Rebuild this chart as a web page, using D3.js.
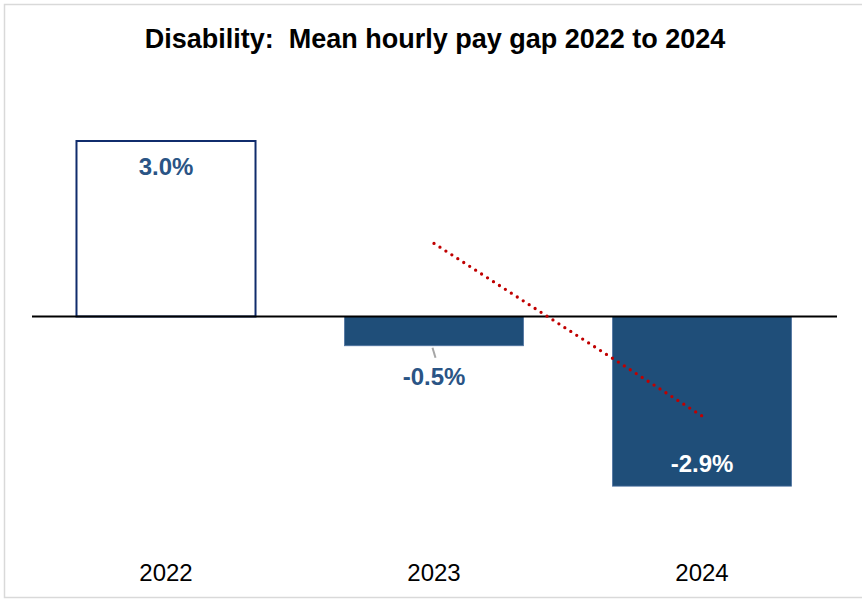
<!DOCTYPE html>
<html>
<head>
<meta charset="utf-8">
<script src="https://cdn.jsdelivr.net/npm/d3@7"></script>
<style>
  html, body { margin: 0; padding: 0; background: #fff; }
  svg { display: block; font-family: Arial, "Liberation Sans", sans-serif; }
</style>
</head>
<body>
<svg id="chart" width="862" height="600"></svg>
<script>
const title = "Disability:\u00A0\u00A0Mean hourly pay gap 2022 to 2024";
const years = ["2022", "2023", "2024"];
const payGap = [3.0, -0.5, -2.9];
const labels = ["3.0%", "-0.5%", "-2.9%"];

// 2-period moving average trendline (derived from the data)
const movingAvg = payGap.slice(1).map((v, i) => ({ year: years[i + 1], value: (v + payGap[i]) / 2 }));

const svg = d3.select("#chart");

svg.append("rect")
  .attr("x", 4.5).attr("y", 4.5).attr("width", 880).attr("height", 593)
  .attr("fill", "#fff").attr("stroke", "#D9D9D9").attr("stroke-width", 1.5);

const x = d3.scaleBand().domain(years).range([32, 836]).paddingInner(0.332).paddingOuter(0.166);
const y = d3.scaleLinear().domain([-3, 3]).range([316.5 + 175.5, 141]);

svg.append("text")
  .attr("x", 435).attr("y", 48)
  .attr("text-anchor", "middle")
  .attr("font-size", 27).attr("font-weight", "bold").attr("fill", "#000")
  .text(title);

const data = years.map((yr, i) => ({ year: yr, value: payGap[i], label: labels[i], i }));

svg.selectAll("rect.bar").data(data).enter().append("rect")
  .attr("class", "bar")
  .attr("x", d => x(d.year))
  .attr("width", x.bandwidth())
  .attr("y", d => y(Math.max(0, d.value)))
  .attr("height", d => Math.abs(y(d.value) - y(0)))
  .attr("fill", d => d.value >= 0 ? "#ffffff" : "#1F4E79")
  .attr("stroke", d => d.value >= 0 ? "#102C6C" : "#4F73A0")
  .attr("stroke-width", d => d.value >= 0 ? 2 : 0.8);

// zero line
svg.append("g")
  .attr("transform", `translate(0,${y(0)})`)
  .call(d3.axisBottom(x).tickSize(0).tickFormat(""))
  .call(g => g.select(".domain").attr("stroke", "#000").attr("stroke-width", 2.2).attr("d", "M32,0H837"));

// trendline
const line = d3.line().x(d => x(d.year) + x.bandwidth() / 2).y(d => y(d.value));
const trend = svg.append("path")
  .datum(movingAvg)
  .attr("d", line)
  .attr("fill", "none")
  .attr("stroke", "#C00000")
  .attr("stroke-width", 3.3)
  .attr("stroke-linecap", "round");
const len = trend.node().getTotalLength();
const gap = len / Math.round(len / 7.1) - 0.01;
trend.attr("stroke-dasharray", `0,${gap}`);

// leader line for -0.5%
const d23 = data[1];
svg.append("line")
  .attr("x1", x(d23.year) + x.bandwidth() / 2 - 1.5).attr("y1", y(d23.value) + 2)
  .attr("x2", x(d23.year) + x.bandwidth() / 2 + 1.5).attr("y2", y(d23.value) + 12)
  .attr("stroke", "#A6A6A6").attr("stroke-width", 2);

// data labels
const labelY = [175, 385, 472];
svg.selectAll("text.lbl").data(data).enter().append("text")
  .attr("class", "lbl")
  .attr("x", d => x(d.year) + x.bandwidth() / 2)
  .attr("y", d => labelY[d.i])
  .attr("text-anchor", "middle")
  .attr("font-size", 24).attr("font-weight", "bold")
  .attr("fill", d => d.i === 2 ? "#ffffff" : "#2A5485")
  .text(d => d.label);

// category labels
svg.append("g")
  .attr("transform", "translate(0,563)")
  .call(d3.axisBottom(x).tickSize(0).tickPadding(0))
  .call(g => g.select(".domain").remove())
  .call(g => g.selectAll("text")
    .attr("font-size", 24).attr("fill", "#000")
    .attr("font-family", "Arial, 'Liberation Sans', sans-serif")
    .attr("dy", "0.75em"));
</script>
</body>
</html>
